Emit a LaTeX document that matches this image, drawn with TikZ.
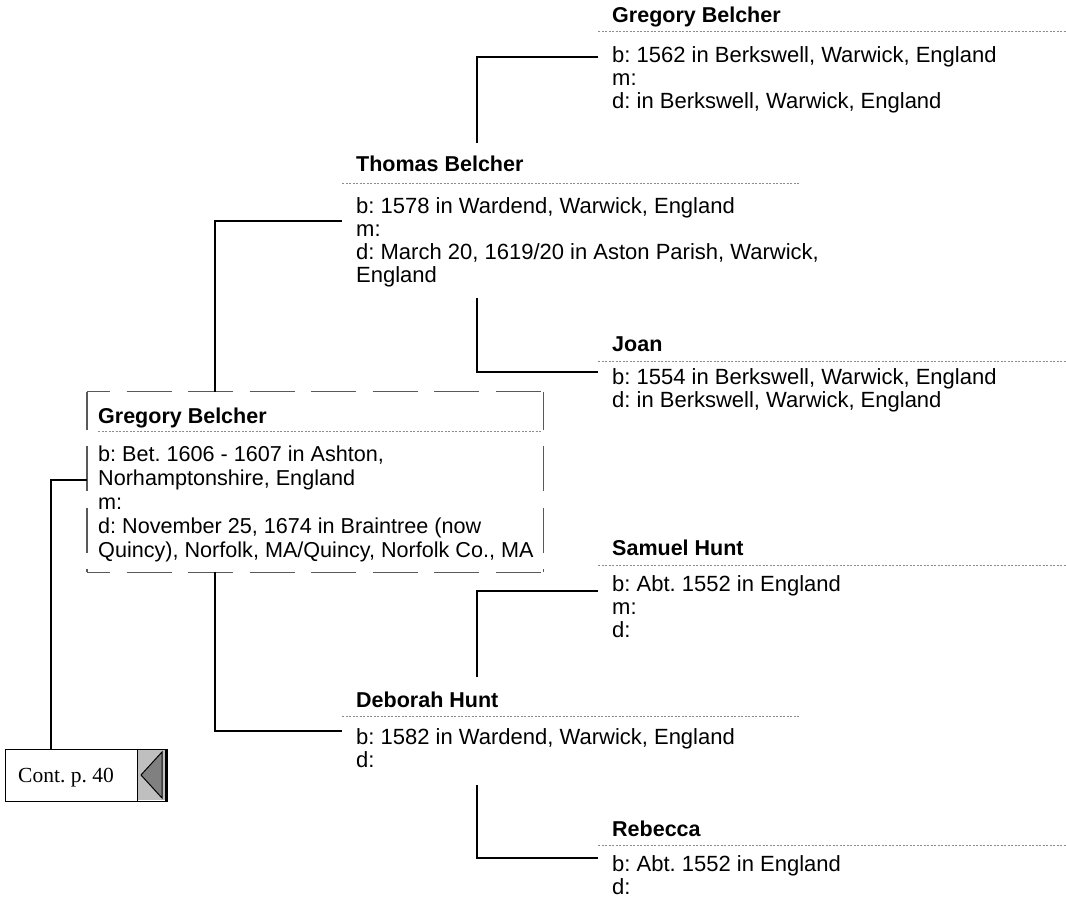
\documentclass[tikz,border=0pt]{standalone}
\usepackage{fontspec}
\setmainfont{Liberation Sans}
\newfontfamily\contfont{Liberation Serif}
\usetikzlibrary{positioning}
\frenchspacing

\begin{document}
\begin{tikzpicture}[x=1pt, y=-1pt, font=\fontsize{22}{23}\selectfont,
  who/.style={anchor=base west, inner sep=0pt, font=\fontsize{21.5}{23}\selectfont\bfseries},
  facts/.style={anchor=north west, inner sep=0pt, align=left},
  rule/.style={gray!90, line width=0.8pt, dash pattern=on 2pt off 1.5pt},
  link/.style={line width=1.9pt},
  boxedge/.style={black!65, line width=1.3pt, dash pattern=on 45pt off 16.5pt}]
  \useasboundingbox (0,0) rectangle (1066,904);

  % great-grandparents
  \node[who] (gregsr) at (612,23) {Gregory Belcher};
  \draw[rule] (598,31) -- (1066,31);
  \node[facts] (gregsr-f) at (612,46.2) {b: 1562 in Berkswell, Warwick, England\\m:\\d: in Berkswell, Warwick, England};
  \coordinate (gregsr-in) at (598,57);

  \node[who] (joan) at (612,351) {Joan};
  \draw[rule] (598,361.7) -- (1066,361.7);
  \node[facts] (joan-f) at (612,368.2) {b: 1554 in Berkswell, Warwick, England\\d: in Berkswell, Warwick, England};
  \coordinate (joan-in) at (598,372);

  \node[who] (samuel) at (612,555) {Samuel Hunt};
  \draw[rule] (598,565) -- (1066,565);
  \node[facts] (samuel-f) at (612,575.2) {b: Abt. 1552 in England\\m:\\d:};
  \coordinate (samuel-in) at (598,591);

  \node[who] (rebecca) at (612,836) {Rebecca};
  \draw[rule] (598,845) -- (1066,845);
  \node[facts] (rebecca-f) at (612,855.2) {b: Abt. 1552 in England\\d:};
  \coordinate (rebecca-in) at (598,858);

  % grandparents
  \node[who] (thomas) at (356,172) {Thomas Belcher};
  \draw[rule] (342,183.3) -- (800,183.3);
  \node[facts] (thomas-f) at (356,197.2) {b: 1578 in Wardend, Warwick, England\\m:\\d: March 20, 1619/20 in Aston Parish, Warwick,\\England};
  \coordinate (thomas-in) at (342,221);
  \coordinate (thomas-top) at (477,143);
  \coordinate (thomas-bot) at (477,298);

  \node[who] (deborah) at (356,707) {Deborah Hunt};
  \draw[rule] (342,716) -- (800,716);
  \node[facts] (deborah-f) at (356,728.2) {b: 1582 in Wardend, Warwick, England\\d:};
  \coordinate (deborah-in) at (342,731);
  \coordinate (deborah-top) at (477,677);
  \coordinate (deborah-bot) at (477,785);

  % subject
  \node[anchor=north west, inner sep=0pt, minimum width=456pt, minimum height=180.3pt] (main) at (87,391.7) {};
  \draw[boxedge, dash phase=22pt] (main.north west) -- (main.north east);
  \draw[boxedge, dash phase=22pt] (main.south west) -- (main.south east);
  \draw[boxedge, dash phase=7pt] (main.north west) -- (main.south west);
  \draw[boxedge, dash phase=7pt] (main.north east) -- (main.south east);
  \node[who] (gregjr) at (98,423) {Gregory Belcher};
  \draw[rule] (98,431) -- (541,431);
  \node[facts, font=\fontsize{21.6}{24}\selectfont] (gregjr-f) at (98,445.4) {b: Bet. 1606 - 1607 in Ashton,\\Norhamptonshire, England\\m:\\d: November 25, 1674 in Braintree (now\\Quincy), Norfolk, MA/Quincy, Norfolk Co., MA};
  \coordinate (main-top) at (215,391.7);
  \coordinate (main-bot) at (215,572);
  \coordinate (main-in) at (87,480);

  % continuation box
  \node[draw, line width=1.3pt, fill=white, anchor=north west, inner sep=0pt, minimum width=162pt, minimum height=52pt] (cont) at (5,749) {};
  \fill[gray!50] (137,749.6) rectangle (166.4,800.4);
  \draw[line width=1pt] (137,749) -- (137,801);
  \draw[line width=2.4pt] (166,749) -- (166,801);
  \draw[fill=gray, line width=1pt] (141,775) -- (162,752) -- (162,798) -- cycle;
  \node[anchor=base west, inner sep=0pt, font=\contfont\fontsize{21.5}{23}\selectfont] (cont-t) at (18,782) {Cont. p. 40};
  \coordinate (cont-top) at (51,749);

  % links
  \draw[link] (thomas-top) |- (gregsr-in);
  \draw[link] (thomas-bot) |- (joan-in);
  \draw[link] (main-top) |- (thomas-in);
  \draw[link] (main-bot) |- (deborah-in);
  \draw[link] (deborah-top) |- (samuel-in);
  \draw[link] (deborah-bot) |- (rebecca-in);
  \draw[link] (cont-top) |- (main-in);
\end{tikzpicture}
\end{document}
